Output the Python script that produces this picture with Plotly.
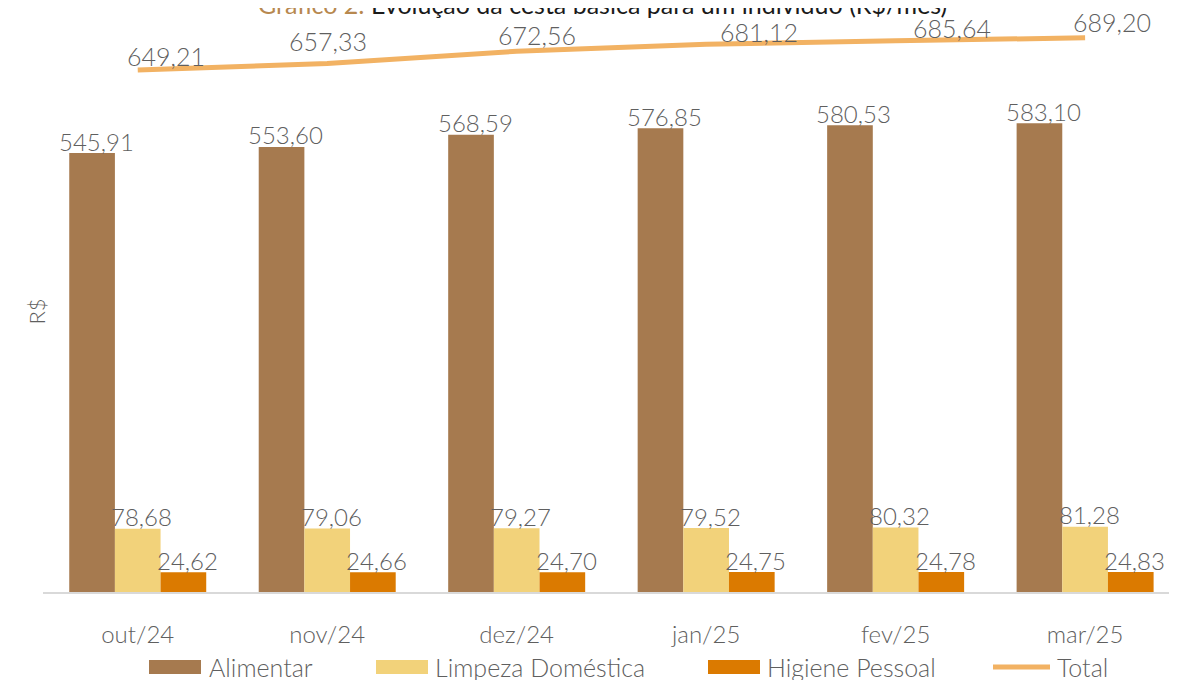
import plotly.graph_objects as go

months = ["out/24", "nov/24", "dez/24", "jan/25", "fev/25", "mar/25"]
alimentar = [545.91, 553.60, 568.59, 576.85, 580.53, 583.10]
limpeza = [78.68, 79.06, 79.27, 79.52, 80.32, 81.28]
higiene = [24.62, 24.66, 24.70, 24.75, 24.78, 24.83]
total = [649.21, 657.33, 672.56, 681.12, 685.64, 689.20]

series_names = ["Alimentar", "Limpeza Doméstica", "Higiene Pessoal", "Total"]
series_colors = ["#A67A4F", "#F2D27A", "#DB7A00", "#F2B263"]

def br(v):
    return f"{v:.2f}".replace(".", ",")

FONT = "Lato"
GRAY = "#5f5f5f"

# The page body has an 8px default margin: figure coords = screen coords - 8
PAGE = 8
SL, ST, W, H = 43, 20, 1134, 572   # plot area on screen
L, T = SL - PAGE, ST - PAGE
def xp(px):
    return (px - SL) / W
def yp(py):
    return (ST + H - py) / H

BARGAP = 0.277
XRANGE = [-0.5, 5.485]
unit_px = W / (XRANGE[1] - XRANGE[0])
bar_px = unit_px * (1 - BARGAP) / 3

fig = go.Figure()
for k, (name, vals, color) in enumerate(zip(series_names[:3], [alimentar, limpeza, higiene], series_colors[:3])):
    fig.add_trace(go.Bar(
        x=months, y=vals, name=name, marker=dict(color=color, line=dict(width=0)),
        showlegend=False, hoverinfo="x+y+name",
    ))
    for m, v in zip(months, vals):
        fig.add_annotation(x=m, y=v, text=br(v), showarrow=False,
                           xshift=(k - 1) * bar_px + 4, yshift=12, yanchor="middle",
                           font=dict(family=FONT, size=24, color=GRAY, weight=300))

fig.add_trace(go.Scatter(
    x=months, y=total, name="Total", mode="lines",
    line=dict(color=series_colors[3], width=5), cliponaxis=False, showlegend=False,
))

# Total labels (label offsets as in the reference)
label_xshift = [28, 1, 20, 53, 56, 27]
label_yshift = [14, 22, 16, 12, 13, 16]
for m, v, sx, sy in zip(months, total, label_xshift, label_yshift):
    fig.add_annotation(x=m, y=v, text=br(v), showarrow=False, xshift=sx, yshift=sy,
                       font=dict(family=FONT, size=25, color=GRAY, weight=300))

# Title (partially clipped at the top, as in the reference)
fig.add_annotation(
    xref="paper", yref="paper", x=xp(602), y=0.999, xanchor="center", yanchor="bottom",
    text="<span style='color:#B7884F'>Gráfico 2:</span> Evolução da cesta básica para um indivíduo (R$/mês)",
    showarrow=False, font=dict(family=FONT, size=25, color="#1a1a1a"),
)

# Y axis title
fig.add_annotation(
    xref="paper", yref="paper", x=xp(21), y=yp(312), textangle=-90,
    text="R$", showarrow=False, font=dict(family=FONT, size=22, color=GRAY, weight=300),
)

# Manual legend
sw_x = [(149, 201), (376, 428), (708, 760), (993, 1050)]
txt_x = [207, 433, 765, 1055]
leg_y = 667
shapes = []
for i, (name, color) in enumerate(zip(series_names, series_colors)):
    x0, x1 = sw_x[i]
    if i < 3:
        shapes.append(dict(type="rect", xref="paper", yref="paper",
                           x0=xp(x0), x1=xp(x1), y0=yp(leg_y + 7), y1=yp(leg_y - 7),
                           fillcolor=color, line=dict(width=0), layer="above"))
    else:
        shapes.append(dict(type="line", xref="paper", yref="paper",
                           x0=xp(x0), x1=xp(x1), y0=yp(leg_y), y1=yp(leg_y),
                           line=dict(color=color, width=5), layer="above"))
    fig.add_annotation(xref="paper", yref="paper", x=xp(txt_x[i]), y=yp(leg_y),
                       xanchor="left", yanchor="middle", text=name, showarrow=False,
                       font=dict(family=FONT, size=25, color=GRAY, weight=300))

fig.update_layout(
    width=1177, height=680,
    margin=dict(l=L, r=1177 - L - W, t=T, b=680 - T - H, autoexpand=False),
    paper_bgcolor="white", plot_bgcolor="white",
    barmode="group", bargap=BARGAP, bargroupgap=0,
    font=dict(family=FONT, color=GRAY),
    showlegend=False,
    shapes=shapes,
    xaxis=dict(range=XRANGE, showgrid=False, showline=True, linecolor="#D9D9D9",
               linewidth=2, ticks="", ticklabelstandoff=20, automargin=False,
               tickfont=dict(family=FONT, size=24, color=GRAY, weight=300)),
    yaxis=dict(range=[0, 711.4], showgrid=False, showticklabels=False, zeroline=False,
               showline=False, automargin=False),
)

fig.write_html("out.html")
